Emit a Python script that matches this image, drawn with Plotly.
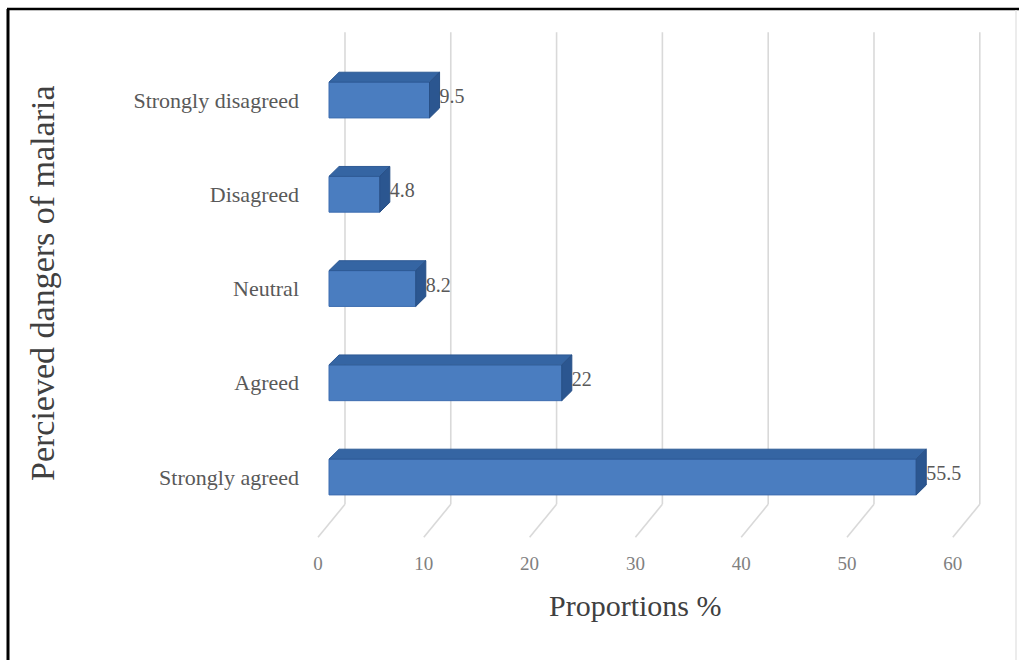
import plotly.graph_objects as go

# Survey responses on perceived dangers of malaria
categories = ["Strongly agreed", "Agreed", "Neutral", "Disagreed", "Strongly disagreed"]
proportions = [55.5, 22, 8.2, 4.8, 9.5]
tick_values = [0, 10, 20, 30, 40, 50, 60]
tick_labels = ["0", "10", "20", "30", "40", "50", "60"]

# Pseudo-3D geometry in data units
WALL_DX, WALL_DY = 2.55, 0.35      # depth from front floor edge to back wall
FLOOR_FRONT_Y = -0.64               # front edge of the floor
WALL_TOP_Y = 4.72                   # top of the back wall
BAR_BASE = 1.04                     # bar front face starts here (mid-depth)
BAR_DX, BAR_DY = 0.95, 0.105        # bar depth projection
BAR_W = 0.38                        # bar thickness

ypos = list(range(len(categories)))

FONT = "Liberation Serif, Times New Roman, serif"
FRONT = "#4a7dc0"
TOP = "#3565a3"
SIDE = "#2b5690"

fig = go.Figure()

# back-wall gridlines and their floor projections, kept beneath the bars
grid_shapes = []
for v in tick_values:
    bx = v + WALL_DX
    by = FLOOR_FRONT_Y + WALL_DY
    style = dict(type="line", xref="x", yref="y", layer="below",
                 line=dict(color="#d9d9d9", width=1.6))
    grid_shapes.append(dict(style, x0=bx, x1=bx, y0=by, y1=WALL_TOP_Y))
    grid_shapes.append(dict(style, x0=bx, x1=v, y0=by, y1=FLOOR_FRONT_Y))

# front faces of the bars
fig.add_trace(go.Bar(x=proportions, y=ypos, base=BAR_BASE, orientation="h",
                     width=BAR_W, marker=dict(color=FRONT,
                                              line=dict(color="#3d6db0", width=1)),
                     showlegend=False, hoverinfo="skip"))

# top and side faces
tx, ty, sx, sy = [], [], [], []
for v, y in zip(proportions, ypos):
    yt, yb = y + BAR_W / 2, y - BAR_W / 2
    x0, x1 = BAR_BASE, BAR_BASE + v
    tx += [x0, x1, x1 + BAR_DX, x0 + BAR_DX, x0, None]
    ty += [yt, yt, yt + BAR_DY, yt + BAR_DY, yt, None]
    sx += [x1, x1 + BAR_DX, x1 + BAR_DX, x1, x1, None]
    sy += [yb, yb + BAR_DY, yt + BAR_DY, yt, yb, None]
fig.add_trace(go.Scatter(x=tx, y=ty, mode="lines", fill="toself", fillcolor=TOP,
                         line=dict(color="#2e5a95", width=1),
                         hoverinfo="skip", showlegend=False))
fig.add_trace(go.Scatter(x=sx, y=sy, mode="lines", fill="toself", fillcolor=SIDE,
                         line=dict(color="#274f86", width=1),
                         hoverinfo="skip", showlegend=False))

# value labels
fig.add_trace(go.Scatter(
    x=[BAR_BASE + v + BAR_DX for v in proportions],
    y=[y + 0.02 for y in ypos],
    mode="text", text=[f"{v:g}" for v in proportions],
    textposition="middle right",
    textfont=dict(family=FONT, size=20, color="#595959"),
    hoverinfo="skip", showlegend=False))

frame = [
    # page frame: heavy left and top rules, faint right rule
    dict(type="line", xref="paper", yref="paper",
         x0=(8 - 310) / 690, x1=(8 - 310) / 690,
         y0=(545 - 9) / 520, y1=(545 - 662) / 520,
         line=dict(color="black", width=3)),
    dict(type="line", xref="paper", yref="paper",
         x0=(7 - 310) / 690, x1=(1019 - 310) / 690,
         y0=(545 - 9) / 520, y1=(545 - 9) / 520,
         line=dict(color="black", width=2.5)),
    dict(type="line", xref="paper", yref="paper",
         x0=(1016 - 310) / 690, x1=(1016 - 310) / 690,
         y0=(545 - 10) / 520, y1=(545 - 662) / 520,
         line=dict(color="#e6e6e6", width=1.5)),
]

fig.update_layout(
    width=1019, height=660,
    margin=dict(l=310, r=19, t=25, b=115),
    paper_bgcolor="white", plot_bgcolor="white",
    xaxis=dict(range=[-0.756, 64.46], tickvals=tick_values, ticktext=tick_labels,
               showgrid=False, zeroline=False, showline=False, ticks="",
               ticklabelstandoff=5,
               tickfont=dict(family=FONT, size=19, color="#808080"),
               fixedrange=True),
    yaxis=dict(range=[-0.7215, 4.796], tickvals=ypos, ticktext=categories,
               showgrid=False, zeroline=False, showline=False, ticks="",
               ticklabelstandoff=10,
               tickfont=dict(family=FONT, size=22, color="#595959"),
               fixedrange=True),
    annotations=[
        dict(text="Proportions %", xref="paper", yref="paper",
             x=(635 - 310) / 690, y=-(605 - 545) / 520,
             showarrow=False, xanchor="center", yanchor="middle",
             font=dict(family=FONT, size=30, color="#404040")),
        dict(text="Percieved dangers of malaria", xref="paper", yref="paper",
             x=(42 - 310) / 690, y=(545 - 283) / 520, textangle=-90,
             showarrow=False, xanchor="center", yanchor="middle",
             font=dict(family=FONT, size=34, color="#404040")),
    ],
    shapes=grid_shapes + frame,
)

fig.write_html("out.html")
